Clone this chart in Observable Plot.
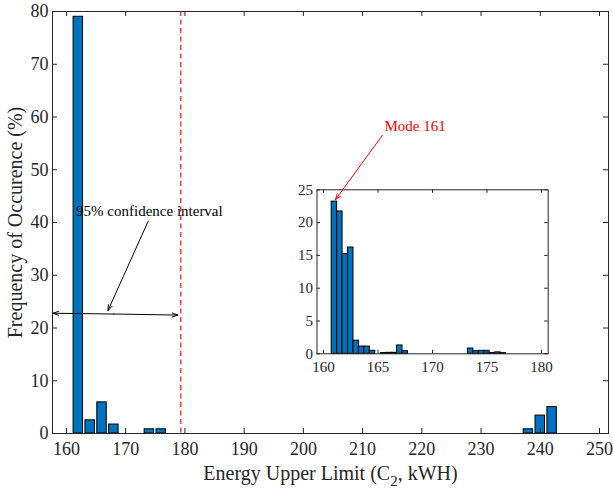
<!DOCTYPE html>
<html><head><meta charset="utf-8">
<script src="https://cdn.jsdelivr.net/npm/d3@7"></script>
<script src="https://cdn.jsdelivr.net/npm/@observablehq/plot@0.6"></script>
<style>
body{margin:0;background:#fff}
#wrap{position:relative;width:613px;height:489px;overflow:hidden}
#wrap svg{position:absolute;background:transparent}
</style>
</head><body><div id="wrap"></div>
<script>
// ---- data ----
const mainCenters = [162, 164, 166, 168, 174, 176, 238, 240, 242];
const mainValues  = [79, 2.5, 5.9, 1.7, 0.8, 0.8, 0.8, 3.4, 5.0];
const insetCenters = [161, 161.5, 162, 162.5, 163, 163.5, 164, 164.5, 165.5, 166, 166.5, 167, 167.5, 173.5, 174, 174.5, 175, 175.5, 176, 176.5];
const insetValues  = [23.2, 21.7, 15.2, 16.2, 2.0, 1.1, 1.1, 0.46, 0.12, 0.15, 0.15, 1.27, 0.4, 0.8, 0.4, 0.45, 0.45, 0.12, 0.22, 0.1];
const mainXTicks = [160, 170, 180, 190, 200, 210, 220, 230, 240, 250];
const mainYTicks = [0, 10, 20, 30, 40, 50, 60, 70, 80];
const insetXTicks = [160, 165, 170, 175, 180];
const insetYTicks = [0, 5, 10, 15, 20, 25];
const ciBound = [179.3];
const xLabel = "Energy Upper Limit (C2, kWH)";
const yLabel = "Frequency of Occurence (%)";
const ciText = ["95% confidence interval"];
const ciTextPos = {x: 174, y: 42.1};
const ciPointer = [{x1: 173.8, y1: 40.25, x2: 167.0, y2: 23.3}];
const ciSpan = [{x1: 168, y1: 22.65, x2: 157.75, y2: 22.8}, {x1: 168, y1: 22.65, x2: 178.8, y2: 22.45}];
const modeText = ["Mode 161"];
const modeTextPos = {x: 165.6, y: 34.66};
const modePointer = [{x1: 165.4, y1: 33.3, x2: 161.1, y2: 23.5}];

const mainData = mainCenters.map((c, i) => ({c, v: mainValues[i]}));
const insetData = insetCenters.map((c, i) => ({c, v: insetValues[i]}));

const AX = "#262626";
const BAR = "#0072BD";
const FONT = "Liberation Serif";

// ---- main chart ----
const W = 613, H = 489, mL = 52, mR = 5, mT = 11, mB = 56;
const fw = W - mL - mR, fh = H - mT - mB;
const main = Plot.plot({
  width: W, height: H,
  marginLeft: mL, marginRight: mR, marginTop: mT, marginBottom: mB,
  style: {fontFamily: FONT, fontSize: "18px", color: AX, background: "transparent"},
  x: {domain: [157.64, 251.52], label: null},
  y: {domain: [0, 80], label: null},
  marks: [
    Plot.rectY(mainData, {x1: d => d.c - 0.8, x2: d => d.c + 0.8, y: "v", fill: BAR, stroke: "black", strokeWidth: 1}),
    Plot.ruleX(ciBound, {stroke: "#ff2020", strokeWidth: 1.3, strokeDasharray: "5,3.5"}),
    Plot.tickX(mainXTicks, {stroke: AX, insetTop: fh - 5}),
    Plot.tickX(mainXTicks, {stroke: AX, insetBottom: fh - 5}),
    Plot.tickY(mainYTicks, {stroke: AX, insetRight: fw - 5}),
    Plot.tickY(mainYTicks, {stroke: AX, insetLeft: fw - 5}),
    Plot.axisX(mainXTicks, {tickSize: 0, tickPadding: 9, fontSize: 18, label: null}),
    Plot.axisY(mainYTicks, {tickSize: 0, tickPadding: 4, fontSize: 18, label: null}),
    Plot.frame({stroke: AX, strokeWidth: 1}),
    Plot.text([xLabel], {frameAnchor: "bottom", dy: 39.6, fontSize: 20, fill: AX, textAnchor: "middle", lineAnchor: "middle"}),
    Plot.text([yLabel], {frameAnchor: "left", rotate: -90, dx: -37.4, fontSize: 20, fill: AX, textAnchor: "middle", lineAnchor: "middle"}),
    Plot.text(ciText, {x: () => ciTextPos.x, y: () => ciTextPos.y, fontSize: 15, fill: "black", lineAnchor: "middle"}),
    Plot.arrow(ciPointer, {x1: "x1", y1: "y1", x2: "x2", y2: "y2", stroke: "black", strokeWidth: 1, headLength: 9, headAngle: 40}),
    Plot.arrow(ciSpan, {x1: "x1", y1: "y1", x2: "x2", y2: "y2", stroke: "black", strokeWidth: 1, headLength: 9, headAngle: 40})
  ]
});
main.style.left = "0px"; main.style.top = "0px";
// subscript in x label
d3.select(main).selectAll("text").filter(function () { return this.textContent === xLabel; }).each(function () {
  const t = d3.select(this);
  t.text(null);
  t.append("tspan").text("Energy Upper Limit (C");
  t.append("tspan").attr("dy", 7).attr("font-size", 15).text("2");
  t.append("tspan").attr("dy", -7).text(", kWH)");
});
document.getElementById("wrap").appendChild(main);

// ---- inset chart ----
const IW = 290, IH = 290, iL = 36.5, iR = 22.3, iT = 89.3, iB = 36.7;
const ifw = IW - iL - iR, ifh = IH - iT - iB;
const inset = Plot.plot({
  width: IW, height: IH,
  marginLeft: iL, marginRight: iR, marginTop: iT, marginBottom: iB,
  style: {fontFamily: FONT, fontSize: "15px", color: AX, background: "transparent", overflow: "visible"},
  x: {domain: [159.404, 180.615], label: null},
  y: {domain: [0, 25], label: null},
  marks: [
    Plot.frame({fill: "white", stroke: "none"}),
    Plot.rectY(insetData, {x1: d => d.c - 0.25, x2: d => d.c + 0.25, y: "v", fill: BAR, stroke: "black", strokeWidth: 1}),
    Plot.tickX(insetXTicks, {stroke: AX, insetTop: ifh - 3.5}),
    Plot.tickX(insetXTicks, {stroke: AX, insetBottom: ifh - 3.5}),
    Plot.tickY(insetYTicks, {stroke: AX, insetRight: ifw - 3.5}),
    Plot.tickY(insetYTicks, {stroke: AX, insetLeft: ifw - 3.5}),
    Plot.axisX(insetXTicks, {tickSize: 0, tickPadding: 8, fontSize: 15, label: null}),
    Plot.axisY(insetYTicks, {tickSize: 0, tickPadding: 4, fontSize: 15, label: null}),
    Plot.frame({stroke: AX, strokeWidth: 1}),
    Plot.text(modeText, {x: () => modeTextPos.x, y: () => modeTextPos.y, fontSize: 15, fill: "#ff0000", textAnchor: "start", lineAnchor: "middle"}),
    Plot.arrow(modePointer, {x1: "x1", y1: "y1", x2: "x2", y2: "y2", stroke: "#ff0000", strokeWidth: 1, headLength: 9, headAngle: 40})
  ]
});
inset.style.left = "280px"; inset.style.top = "100px";
document.getElementById("wrap").appendChild(inset);
</script>
</body></html>
